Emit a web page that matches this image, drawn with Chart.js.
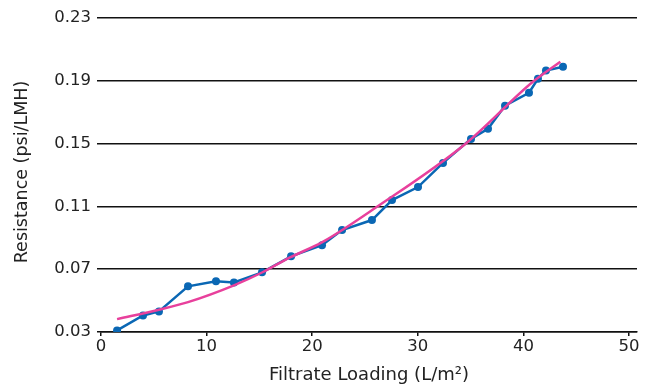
<!DOCTYPE html>
<html>
<head>
<meta charset="utf-8">
<script src="https://cdn.jsdelivr.net/npm/chart.js@4"></script>
<style>
html,body{margin:0;padding:0;background:#fff;}
#wrap{width:651px;height:388px;}
</style>
</head>
<body>
<div id="wrap"><canvas id="c" width="651" height="388"></canvas></div>
<script>
const loading = [1.52, 3.98, 5.49, 8.24, 10.89, 12.59, 15.25, 18.0, 20.93, 22.83, 25.66, 27.56, 30.02, 32.39, 35.04, 36.65, 38.26, 40.53, 41.38, 42.14, 43.75];
const resistance = [0.031, 0.0405, 0.0431, 0.0591, 0.0623, 0.0616, 0.068, 0.0782, 0.0853, 0.0949, 0.1013, 0.114, 0.1223, 0.1377, 0.153, 0.1594, 0.1741, 0.1824, 0.1913, 0.1965, 0.199];
const fitLoading = [1.52, 5.49, 8.24, 12.59, 15.25, 17.9, 21.0, 26.1, 34.5, 40.9, 43.5];
const fitResistance = [0.0382, 0.0442, 0.049, 0.0597, 0.0679, 0.0775, 0.0874, 0.1096, 0.1498, 0.1894, 0.2022];
const xTicks = [0, 10, 20, 30, 40, 50];
const yTicks = [0.03, 0.07, 0.11, 0.15, 0.19, 0.23];
const xTitle = 'Filtrate Loading (L/m²)';
const yTitle = 'Resistance (psi/LMH)';

const FONT = 'DejaVu Sans';
const TEXT = '#222';
const toPts = (xs, ys) => xs.map((x, i) => ({x: x, y: ys[i]}));

// y axis title drawn as canvas text at the reference position
const yTitlePlugin = {
  id: 'yTitle',
  afterDraw(chart) {
    const ctx = chart.ctx;
    ctx.save();
    ctx.translate(22, 172);
    ctx.rotate(-Math.PI / 2);
    ctx.font = '17.5px "' + FONT + '"';
    ctx.fillStyle = TEXT;
    ctx.textAlign = 'center';
    ctx.textBaseline = 'middle';
    ctx.fillText(yTitle, 0, 0);
    ctx.restore();
  }
};

new Chart(document.getElementById('c'), {
  type: 'line',
  data: {
    datasets: [
      {
        label: 'Fit',
        data: toPts(fitLoading, fitResistance),
        borderColor: '#e8409c',
        borderWidth: 2.5,
        pointRadius: 0,
        cubicInterpolationMode: 'monotone',
        fill: false
      },
      {
        label: 'Resistance',
        data: toPts(loading, resistance),
        borderColor: '#0a67b4',
        backgroundColor: '#0a67b4',
        borderWidth: 2.5,
        pointRadius: 4,
        pointBorderWidth: 0,
        tension: 0,
        fill: false
      }
    ]
  },
  options: {
    responsive: false,
    animation: false,
    layout: {padding: {top: 18, right: 14, left: 0, bottom: 0}},
    plugins: {legend: {display: false}, tooltip: {enabled: false}},
    scales: {
      x: {
        type: 'linear',
        min: 0,
        max: 50.76,
        afterBuildTicks: (s) => { s.ticks = xTicks.map(v => ({value: v})); },
        afterFit: (s) => { s.height = 56; },
        border: {display: true, color: '#111', width: 1.5},
        grid: {drawOnChartArea: false, drawTicks: true, tickLength: 4, color: '#111', lineWidth: 1.5},
        ticks: {color: TEXT, font: {family: FONT, size: 16.5}, padding: 1, maxRotation: 0},
        title: {display: true, text: xTitle, color: TEXT, font: {family: FONT, size: 18}, padding: {top: 0, bottom: 2}}
      },
      y: {
        type: 'linear',
        min: 0.03,
        max: 0.23,
        afterBuildTicks: (s) => { s.ticks = yTicks.map(v => ({value: v})); },
        afterFit: (s) => { s.width = 101; },
        border: {display: false},
        grid: {drawOnChartArea: true, drawTicks: true, tickLength: 4, color: '#111', lineWidth: 1.5},
        ticks: {color: TEXT, font: {family: FONT, size: 16.5}, padding: 6, callback: (v) => v.toFixed(2)},
        title: {display: false}
      }
    }
  },
  plugins: [yTitlePlugin]
});
</script>
</body>
</html>
